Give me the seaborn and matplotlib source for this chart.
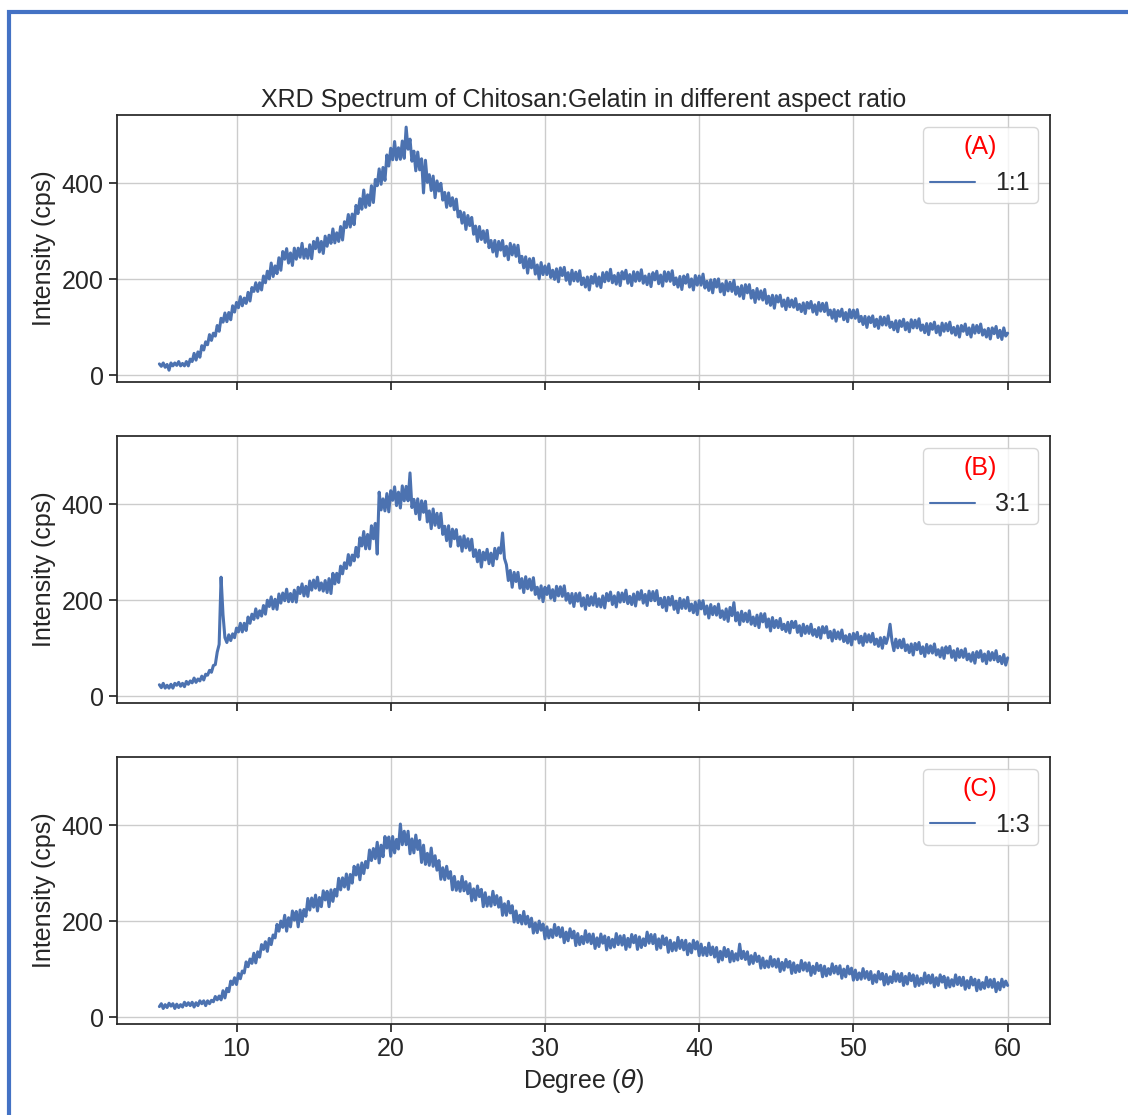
import numpy as np
import pandas as pd
import matplotlib
matplotlib.use("Agg")
import matplotlib.pyplot as plt
import seaborn as sns
from matplotlib.patches import Rectangle

# 2-theta scan positions, 0.125 degree step from 5 to 60
two_theta = np.arange(5.0, 60.0 + 0.0625, 0.125)

ratio_labels = ["1:1", "3:1", "1:3"]
panel_tags = ["(A)", "(B)", "(C)"]

# Intensity (cps), eight readings per degree
intensity_1_1 = [
    24, 19, 26, 17, 23, 11, 26, 20,          # 5
    26, 21, 29, 20, 25, 20, 29, 20,          # 6
    34, 29, 46, 32, 49, 38, 62, 53,          # 7
    70, 64, 85, 73, 88, 82, 104, 92,         # 8
    119, 111, 130, 112, 131, 116, 145, 132,  # 9
    152, 141, 164, 145, 161, 150, 173, 155,  # 10
    183, 175, 193, 175, 193, 178, 207, 193,  # 11
    217, 201, 234, 206, 228, 212, 245, 219,  # 12
    258, 242, 264, 234, 255, 229, 265, 242,  # 13
    265, 246, 275, 244, 263, 244, 272, 243,  # 14
    279, 264, 286, 257, 279, 254, 290, 269,  # 15
    292, 275, 305, 276, 297, 279, 310, 282,  # 16
    320, 308, 335, 309, 336, 314, 354, 337,  # 17
    368, 346, 386, 350, 376, 354, 395, 360,  # 18
    408, 395, 430, 398, 433, 406, 459, 436,  # 19
    473, 449, 487, 449, 474, 450, 488, 452,  # 20
    517, 471, 492, 446, 467, 426, 465, 428,  # 21
    451, 380, 448, 402, 418, 385, 415, 370,  # 22
    405, 384, 400, 365, 381, 350, 380, 353,  # 23
    370, 345, 367, 330, 342, 317, 339, 304,  # 24
    333, 312, 329, 294, 311, 279, 310, 283,  # 25
    301, 277, 302, 266, 281, 257, 281, 248,  # 26
    279, 261, 281, 249, 269, 241, 275, 251,  # 27
    272, 248, 271, 235, 248, 224, 247, 213,  # 28
    243, 224, 244, 211, 230, 201, 235, 210,  # 29
    228, 210, 232, 204, 219, 200, 222, 195,  # 30
    224, 208, 225, 198, 214, 190, 219, 197,  # 31
    215, 196, 218, 189, 203, 184, 205, 178,  # 32
    206, 192, 211, 186, 205, 183, 214, 195,  # 33
    215, 197, 221, 193, 208, 190, 213, 187,  # 34
    216, 201, 219, 192, 210, 187, 216, 196,  # 35
    215, 197, 220, 192, 207, 189, 211, 185,  # 36
    214, 199, 217, 191, 209, 186, 216, 196,  # 37
    215, 196, 218, 189, 203, 184, 206, 179,  # 38
    207, 192, 210, 184, 201, 178, 208, 188,  # 39
    207, 188, 211, 182, 196, 177, 199, 172,  # 40
    200, 184, 201, 174, 191, 168, 197, 176,  # 41
    194, 175, 198, 169, 184, 165, 187, 160,  # 42
    189, 172, 189, 161, 177, 152, 181, 159,  # 43
    176, 157, 179, 150, 165, 146, 167, 140,  # 44
    166, 153, 167, 144, 157, 137, 161, 143,  # 45
    157, 142, 160, 137, 148, 133, 151, 129,  # 46
    152, 140, 154, 132, 147, 127, 152, 134,  # 47
    150, 133, 151, 126, 136, 119, 137, 113,  # 48
    135, 123, 138, 116, 131, 112, 137, 120,  # 49
    136, 119, 137, 112, 123, 106, 123, 100,  # 50
    122, 110, 124, 102, 117, 98, 122, 105,   # 51
    121, 105, 124, 100, 111, 95, 114, 91,    # 52
    114, 102, 117, 95, 110, 91, 116, 99,     # 53
    115, 99, 118, 94, 105, 89, 108, 85,      # 54
    108, 96, 111, 89, 103, 84, 109, 92,      # 55
    108, 93, 111, 88, 100, 84, 103, 80,      # 56
    104, 92, 107, 85, 99, 80, 105, 88,       # 57
    104, 89, 107, 84, 95, 80, 98, 76,        # 58
    99, 87, 102, 79, 94, 75, 99, 82,         # 59
    88,                                      # 60
]

intensity_3_1 = [
    24, 18, 27, 17, 23, 17, 25, 17,          # 5
    27, 23, 29, 21, 27, 20, 31, 25,          # 6
    32, 28, 38, 29, 36, 32, 42, 34,          # 7
    46, 44, 54, 50, 64, 66, 92, 108,         # 8
    248, 170, 122, 112, 128, 116, 130, 122,  # 9
    142, 134, 152, 134, 152, 137, 165, 152,  # 10
    171, 160, 182, 163, 178, 167, 189, 171,  # 11
    200, 187, 207, 182, 202, 181, 213, 194,  # 12
    215, 199, 223, 197, 214, 197, 221, 196,  # 13
    227, 214, 234, 209, 229, 208, 240, 221,  # 14
    242, 225, 248, 221, 236, 219, 241, 216,  # 15
    245, 214, 256, 234, 256, 237, 271, 255,  # 16
    278, 266, 295, 273, 294, 282, 310, 290,  # 17
    330, 313, 343, 307, 337, 307, 355, 328,  # 18
    360, 296, 425, 388, 411, 386, 422, 384,  # 19
    428, 408, 436, 397, 425, 392, 438, 407,  # 20
    437, 407, 465, 393, 410, 380, 411, 368,  # 21
    407, 383, 406, 363, 386, 349, 390, 356,  # 22
    381, 351, 381, 337, 354, 324, 355, 312,  # 23
    348, 328, 347, 313, 332, 302, 334, 309,  # 24
    328, 304, 327, 291, 305, 280, 304, 269,  # 25
    300, 284, 306, 276, 298, 272, 308, 286,  # 26
    309, 298, 340, 287, 274, 241, 262, 227,  # 27
    258, 239, 258, 225, 245, 216, 249, 224,  # 28
    244, 221, 247, 212, 227, 204, 230, 197,  # 29
    227, 212, 230, 204, 222, 199, 229, 209,  # 30
    228, 208, 230, 200, 214, 194, 214, 187,  # 31
    214, 198, 215, 188, 205, 181, 210, 189,  # 32
    207, 190, 214, 187, 203, 186, 209, 184,  # 33
    214, 199, 217, 191, 209, 186, 216, 196,  # 34
    215, 197, 221, 193, 208, 191, 213, 188,  # 35
    217, 202, 220, 194, 212, 189, 219, 199,  # 36
    218, 199, 220, 191, 204, 185, 206, 178,  # 37
    206, 190, 208, 181, 198, 174, 204, 183,  # 38
    201, 183, 206, 178, 192, 174, 196, 170,  # 39
    199, 182, 199, 171, 188, 163, 191, 170,  # 40
    187, 169, 192, 164, 178, 160, 182, 156,  # 41
    185, 168, 195, 157, 174, 149, 177, 156,  # 42
    173, 155, 178, 150, 165, 147, 169, 143,  # 43
    172, 155, 172, 144, 161, 136, 164, 143,  # 44
    158, 143, 162, 139, 150, 135, 154, 132,  # 45
    156, 143, 156, 133, 147, 126, 150, 131,  # 46
    146, 131, 150, 127, 139, 124, 143, 121,  # 47
    145, 132, 145, 122, 135, 115, 138, 120,  # 48
    134, 119, 138, 114, 126, 111, 129, 107,  # 49
    131, 119, 133, 111, 125, 106, 130, 113,  # 50
    128, 113, 131, 108, 119, 104, 122, 100,  # 51
    123, 110, 124, 150, 115, 95, 119, 101,   # 52
    117, 101, 119, 95, 107, 91, 109, 86,     # 53
    110, 97, 112, 89, 103, 83, 108, 90,      # 54
    105, 90, 109, 86, 97, 82, 101, 79,       # 55
    103, 90, 104, 81, 95, 75, 99, 81,        # 56
    96, 81, 99, 76, 88, 73, 91, 69,          # 57
    93, 81, 95, 73, 88, 68, 93, 75,          # 58
    91, 76, 95, 72, 83, 68, 87, 65,          # 59
    80,                                      # 60
]

intensity_1_3 = [
    22, 28, 18, 26, 20, 29, 23, 28,          # 5
    18, 27, 20, 26, 21, 31, 24, 30,          # 6
    24, 31, 21, 30, 24, 34, 28, 34,          # 7
    24, 34, 28, 35, 32, 43, 36, 44,          # 8
    36, 55, 40, 60, 53, 75, 68, 82,          # 9
    68, 91, 80, 96, 92, 115, 105, 121,       # 10
    112, 133, 113, 136, 125, 151, 141, 157,  # 11
    137, 164, 151, 171, 165, 193, 179, 200,  # 12
    187, 212, 179, 207, 188, 221, 202, 220,  # 13
    188, 223, 199, 224, 210, 247, 223, 248,  # 14
    229, 254, 221, 249, 230, 263, 244, 262,  # 15
    230, 265, 241, 266, 252, 289, 265, 290,  # 16
    271, 298, 266, 297, 279, 314, 296, 317,  # 17
    286, 321, 299, 324, 311, 348, 326, 351,  # 18
    330, 364, 321, 358, 334, 376, 352, 375,  # 19
    335, 376, 342, 370, 350, 402, 359, 387,  # 20
    359, 387, 340, 371, 342, 379, 349, 368,  # 21
    322, 358, 318, 341, 316, 352, 314, 336,  # 22
    306, 326, 287, 311, 286, 314, 289, 303,  # 23
    265, 293, 264, 282, 262, 293, 263, 282,  # 24
    257, 278, 242, 267, 244, 273, 251, 266,  # 25
    230, 259, 231, 250, 231, 262, 234, 253,  # 26
    229, 249, 212, 236, 212, 241, 217, 232,  # 27
    198, 221, 197, 212, 194, 220, 194, 210,  # 28
    188, 206, 175, 196, 176, 200, 181, 194,  # 29
    163, 188, 165, 182, 166, 193, 170, 187,  # 30
    167, 186, 155, 177, 159, 184, 165, 179,  # 31
    149, 174, 151, 168, 153, 180, 156, 173,  # 32
    153, 173, 143, 165, 147, 173, 154, 169,  # 33
    140, 166, 144, 162, 146, 174, 151, 169,  # 34
    150, 170, 141, 164, 146, 172, 155, 170,  # 35
    141, 167, 145, 163, 149, 177, 154, 172,  # 36
    153, 172, 141, 163, 144, 169, 151, 165,  # 37
    135, 160, 138, 155, 139, 166, 143, 160,  # 38
    140, 160, 130, 153, 134, 160, 142, 157,  # 39
    128, 152, 129, 145, 128, 154, 130, 146,  # 40
    125, 145, 115, 137, 119, 145, 126, 141,  # 41
    115, 137, 117, 132, 119, 152, 122, 137,  # 42
    120, 136, 110, 128, 112, 133, 116, 127,  # 43
    102, 123, 103, 117, 104, 126, 106, 120,  # 44
    104, 121, 95, 114, 98, 120, 104, 116,    # 45
    91, 113, 93, 108, 95, 118, 98, 113,      # 46
    96, 113, 87, 106, 91, 112, 97, 108,      # 47
    84, 106, 86, 101, 89, 111, 92, 106,      # 48
    90, 107, 81, 100, 84, 106, 90, 102,      # 49
    77, 98, 78, 92, 79, 101, 81, 95,         # 50
    78, 95, 70, 88, 73, 95, 79, 91,          # 51
    67, 89, 69, 84, 72, 95, 75, 90,          # 52
    74, 91, 66, 85, 69, 91, 76, 88,          # 53
    64, 86, 66, 81, 69, 92, 72, 87,          # 54
    71, 88, 63, 82, 66, 88, 73, 85,          # 55
    61, 82, 63, 78, 65, 88, 68, 83,          # 56
    66, 83, 58, 76, 61, 83, 67, 79,          # 57
    55, 77, 58, 72, 60, 83, 63, 78,          # 58
    62, 79, 53, 72, 57, 79, 63, 75,          # 59
    66,                                      # 60
]

series = [intensity_1_1, intensity_3_1, intensity_1_3]
for s in series:
    assert len(s) == len(two_theta), len(s)

sns.set_theme(context="notebook", style="ticks", rc={"axes.grid": True})
plt.rcParams["font.family"] = ["Liberation Sans", "DejaVu Sans"]
plt.rcParams.update({
    "font.size": 18,
    "axes.titlesize": 18,
    "axes.labelsize": 18,
    "xtick.labelsize": 18,
    "ytick.labelsize": 18,
    "legend.fontsize": 18,
    "legend.title_fontsize": 18,
})

line_color = sns.color_palette("deep")[0]

fig, axes = plt.subplots(3, 1, figsize=(11.28, 11.15), dpi=100, sharex=True, sharey=True)
fig.subplots_adjust(left=0.1037, right=0.9309, top=0.8969, bottom=0.0816, hspace=0.2)

for ax, vals, lab, tag in zip(axes, series, ratio_labels, panel_tags):
    df = pd.DataFrame({"Degree": two_theta, "Intensity": vals})
    sns.lineplot(data=df, x="Degree", y="Intensity", ax=ax, color=line_color,
                 linewidth=2.2, label=lab)
    ax.set_ylabel("Intensity (cps)")
    ax.set_xlabel("")
    ax.set_yticks([0, 200, 400])
    leg = ax.legend(title=tag, loc="upper right", handlelength=1.8, borderpad=0.3)
    for h in leg.legend_handles:
        h.set_linewidth(1.5)
    leg.get_title().set_color("red")

axes[0].set_title("XRD Spectrum of Chitosan:Gelatin in different aspect ratio")
axes[-1].set_xlabel(r"Degree ($\theta$)")
axes[-1].set_xticks([10, 20, 30, 40, 50, 60])

# blue frame along the left and top edges of the figure
fig.add_artist(Rectangle((8.5 / 1128, -0.05), 1.2, 1.05 - 12 / 1115,
                         transform=fig.transFigure, fill=False,
                         edgecolor="#4472C4", linewidth=3, clip_on=False))

fig.savefig("out.png", dpi=100)
